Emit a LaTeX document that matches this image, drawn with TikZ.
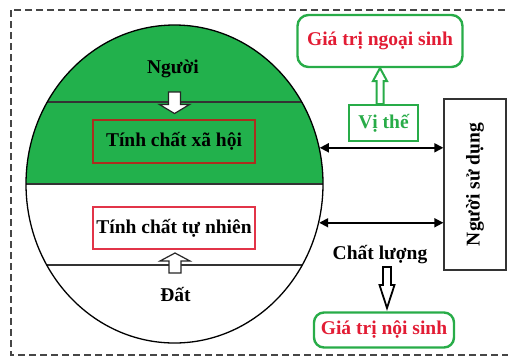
\documentclass[tikz,border=0pt]{standalone}
\usepackage{fontspec}
\setmainfont{Liberation Serif}
\usetikzlibrary{arrows.meta,calc,shapes.geometric}

\definecolor{landgreen}{RGB}{34,177,76}
\definecolor{boxgreen}{RGB}{40,172,72}
\definecolor{valred}{RGB}{226,28,52}
\definecolor{darkred}{RGB}{172,46,30}
\definecolor{lightred}{RGB}{226,52,72}
\definecolor{framegray}{RGB}{70,70,70}

% vertical block arrow: style, x, y of tail, y of tip, shaft half width,
% head half width, signed head length (from tip back towards the tail)
\newcommand\vblock[7]{%
  \draw[#1] ({#2-#5},#3) -- ({#2+#5},#3) -- ({#2+#5},{#4+#7})
    -- ({#2+#6},{#4+#7}) -- (#2,#4) -- ({#2-#6},{#4+#7})
    -- ({#2-#5},{#4+#7}) -- cycle;}

\begin{document}
\begin{tikzpicture}[x=1pt,y=-1pt,
  txt/.style={font=\bfseries\fontsize{19.5}{22}\selectfont, text=black, inner sep=0pt},
  propbox/.style={txt, draw, line width=1.2pt, minimum width=162pt, minimum height=43pt},
  valbox/.style={txt, text=valred, draw=boxgreen, line width=2.4pt, rounded corners=11pt},
  link/.style={line width=1.7pt, {Triangle[length=9pt,width=9pt]}-{Triangle[length=9pt,width=9pt]}},
  block/.style={fill=white, line width=1.2pt, line join=miter},
  chord/.style={line width=1.1pt, black!80},
]
\useasboundingbox (0,0) rectangle (508,360);
\clip (0,0) rectangle (508,360);

% dashed frame, open on the right
\draw[framegray, line width=1.2pt, dash pattern=on 7pt off 4pt] (11,10) rectangle (540,355);

% land disc: green upper half
\begin{scope}
  \clip (0,0) rectangle (508,184);
  \fill[landgreen] (174.5,184) ellipse [x radius=148.5pt, y radius=159pt];
\end{scope}
\draw[chord] (26,184) -- (323,184);
\draw[chord] (47.3,102) -- (301.7,102);
\draw[chord] (46.7,265) -- (302.3,265);
\node[ellipse, draw, line width=1.3pt, minimum width=297pt, minimum height=318pt, inner sep=0pt] (land) at (174.5,184) {};

% labels inside the disc
\node[txt] (people) at (173,69) {Người};
\node[propbox, draw=darkred] (social) at (174,141.5) {Tính chất xã hội};
\node[propbox, draw=lightred, minimum height=42pt] (natural) at (174,228) {Tính chất tự nhiên};
\node[txt] (soil) at (175.5,294) {Đất};

\vblock{block, draw=black!85}{174.5}{92}{113.5}{6}{15}{-9}
\vblock{block, draw=black!85}{175}{273}{253}{6}{15}{8}

% right side
\node[draw=black!80, line width=1.3pt, minimum width=62pt, minimum height=171pt, inner sep=0pt] (user) at (475,184.5) {};
\node[txt, rotate=90] (userlabel) at (user.center) {Người sử dụng};

\node[txt, text=boxgreen, draw=boxgreen, line width=2.2pt, minimum width=69pt, minimum height=36pt] (position) at (383.5,123) {Vị thế};
\node[valbox, minimum width=165pt, minimum height=52pt] (extval) at (380,41) {Giá trị ngoại sinh};
\node[txt] (quality) at (380,255) {Chất lượng};
\node[valbox, minimum width=140pt, minimum height=35pt, rounded corners=10pt] (intval) at (384,330) {Giá trị nội sinh};

\vblock{block, draw=boxgreen, line width=2pt}{380}{104}{68}{3.5}{7}{13}
\vblock{block, draw=black, line width=1.8pt}{387}{267}{308}{4}{7.5}{-23}

\draw[link] (land.14) -- (land.14 -| user.west);
\draw[link] (land.-15.5) -- (land.-15.5 -| user.west);
\end{tikzpicture}
\end{document}
